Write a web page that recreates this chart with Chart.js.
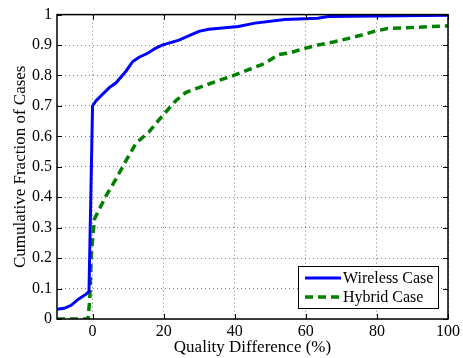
<!DOCTYPE html>
<html>
<head>
<meta charset="utf-8">
<script src="https://cdn.jsdelivr.net/npm/chart.js@4.4.1/dist/chart.umd.min.js"></script>
<style>
  html, body { margin: 0; padding: 0; background: #fff; }
  #wrap { width: 463px; height: 358px; }
</style>
</head>
<body>
<div id="wrap"><canvas id="chart" width="463" height="358"></canvas></div>
<script>
// data
var wirelessX = [-10, -8, -6, -4, -2, -1, 0, 1, 4.7, 6.6, 9.4, 11.3, 13.1, 15.5, 17.8, 19.6, 24.3, 29.9, 32.7, 41, 45.7, 54.1, 63.4, 66.2, 80, 100];
var wirelessY = [0.032, 0.035, 0.045, 0.065, 0.08, 0.09, 0.7, 0.717, 0.76, 0.776, 0.814, 0.846, 0.86, 0.873, 0.89, 0.9, 0.916, 0.945, 0.952, 0.961, 0.972, 0.984, 0.988, 0.994, 0.995, 0.998];

var hybridX = [-10, -1.3, -0.8, -0.4, 0.1, 0.6, 3.8, 6.6, 9.4, 12.2, 15.9, 17.8, 20.6, 23.4, 26.2, 29.9, 34.6, 39.2, 43.9, 48.5, 52.2, 56, 59.7, 63.4, 68.1, 71.8, 75.5, 79.2, 83, 88.5, 94.1, 100];
var hybridY = [0, 0, 0.06, 0.2, 0.277, 0.33, 0.405, 0.46, 0.52, 0.577, 0.615, 0.642, 0.68, 0.717, 0.744, 0.76, 0.78, 0.798, 0.819, 0.84, 0.868, 0.876, 0.889, 0.9, 0.911, 0.921, 0.932, 0.945, 0.954, 0.957, 0.96, 0.963];

var xTicks = [0, 20, 40, 60, 80, 100];
var yTicks = [0, 0.1, 0.2, 0.3, 0.4, 0.5, 0.6, 0.7, 0.8, 0.9, 1];
var seriesNames = ['Wireless Case', 'Hybrid Case'];

function toPoints(xs, ys) {
  var pts = [];
  for (var i = 0; i < xs.length; i++) {
    pts.push({ x: xs[i], y: ys[i] });
  }
  return pts;
}

var FONT = '"Liberation Serif", "DejaVu Serif", serif';

// frame, inward ticks and legend box like the matlab figure
var framePlugin = {
  id: 'frame',
  afterDraw: function(chart) {
    var ctx = chart.ctx;
    var a = chart.chartArea;
    var xs = chart.scales.x, ys = chart.scales.y;
    ctx.save();
    ctx.strokeStyle = '#000';
    ctx.lineWidth = 1;
    ctx.setLineDash([]);
    ctx.beginPath();
    xTicks.forEach(function(v) {
      var px = Math.round(xs.getPixelForValue(v)) + 0.5;
      ctx.moveTo(px, a.bottom); ctx.lineTo(px, a.bottom - 5);
      ctx.moveTo(px, a.top); ctx.lineTo(px, a.top + 5);
    });
    yTicks.forEach(function(v) {
      var py = Math.round(ys.getPixelForValue(v)) + 0.5;
      ctx.moveTo(a.left, py); ctx.lineTo(a.left + 5, py);
      ctx.moveTo(a.right, py); ctx.lineTo(a.right - 5, py);
    });
    ctx.stroke();
    ctx.lineWidth = 1.5;
    ctx.strokeRect(a.left, a.top, a.right - a.left, a.bottom - a.top);

    // legend
    var bw = 140, bh = 42;
    var bx = a.right - 10 - bw, by = a.bottom - 53;
    ctx.fillStyle = '#fff';
    ctx.fillRect(bx, by, bw, bh);
    ctx.lineWidth = 1;
    ctx.strokeRect(bx + 0.5, by + 0.5, bw, bh);
    chart.data.datasets.forEach(function(ds, i) {
      var ly = by + 12 + i * 19;
      ctx.strokeStyle = ds.borderColor;
      ctx.lineWidth = ds.borderWidth;
      ctx.setLineDash(ds.borderDash || []);
      ctx.beginPath();
      ctx.moveTo(bx + 7, ly);
      ctx.lineTo(bx + 43, ly);
      ctx.stroke();
      ctx.setLineDash([]);
      ctx.fillStyle = '#000';
      ctx.font = '16px ' + FONT;
      ctx.textBaseline = 'middle';
      ctx.textAlign = 'left';
      ctx.fillText(ds.label, bx + 45, ly + 1);
    });
    ctx.restore();
  }
};

var chart = new Chart(document.getElementById('chart').getContext('2d'), {
  type: 'line',
  data: {
    datasets: [{
      label: seriesNames[0],
      data: toPoints(wirelessX, wirelessY),
      borderColor: '#0000ff',
      borderWidth: 3,
      pointRadius: 0,
      tension: 0,
      fill: false
    }, {
      label: seriesNames[1],
      data: toPoints(hybridX, hybridY),
      borderColor: '#008000',
      borderWidth: 3.5,
      borderDash: [8, 5],
      pointRadius: 0,
      tension: 0,
      fill: false
    }]
  },
  options: {
    responsive: false,
    animation: false,
    layout: { padding: { top: 9, right: 12, left: 0, bottom: 0 } },
    plugins: {
      legend: { display: false },
      tooltip: { enabled: false }
    },
    scales: {
      x: {
        type: 'linear',
        min: -10,
        max: 100,
        afterBuildTicks: function(scale) {
          scale.ticks = xTicks.map(function(v) { return { value: v }; });
        },
        afterFit: function(scale) { scale.height = 39; },
        grid: { color: 'rgba(0,0,0,0.5)', lineWidth: 1, drawTicks: false },
        border: { display: false, dash: [1, 3] },
        ticks: { color: '#000', font: { family: FONT, size: 16 }, padding: 3, maxRotation: 0 },
        title: { display: true, text: 'Quality Difference (%)', color: '#000', font: { family: FONT, size: 17 }, padding: { top: 0, bottom: 0 } }
      },
      y: {
        min: 0,
        max: 1,
        afterBuildTicks: function(scale) {
          scale.ticks = yTicks.map(function(v) { return { value: v }; });
        },
        afterFit: function(scale) { scale.width = 57; },
        grid: { color: 'rgba(0,0,0,0.5)', lineWidth: 1, drawTicks: false },
        border: { display: false, dash: [1, 3] },
        ticks: {
          color: '#000', font: { family: FONT, size: 16 }, padding: 5,
          callback: function(v) { return String(Math.round(v * 10) / 10); }
        },
        title: { display: true, text: 'Cumulative Fraction of Cases', color: '#000', font: { family: FONT, size: 17 }, padding: { top: 10, bottom: 0 } }
      }
    }
  },
  plugins: [framePlugin]
});
</script>
</body>
</html>
